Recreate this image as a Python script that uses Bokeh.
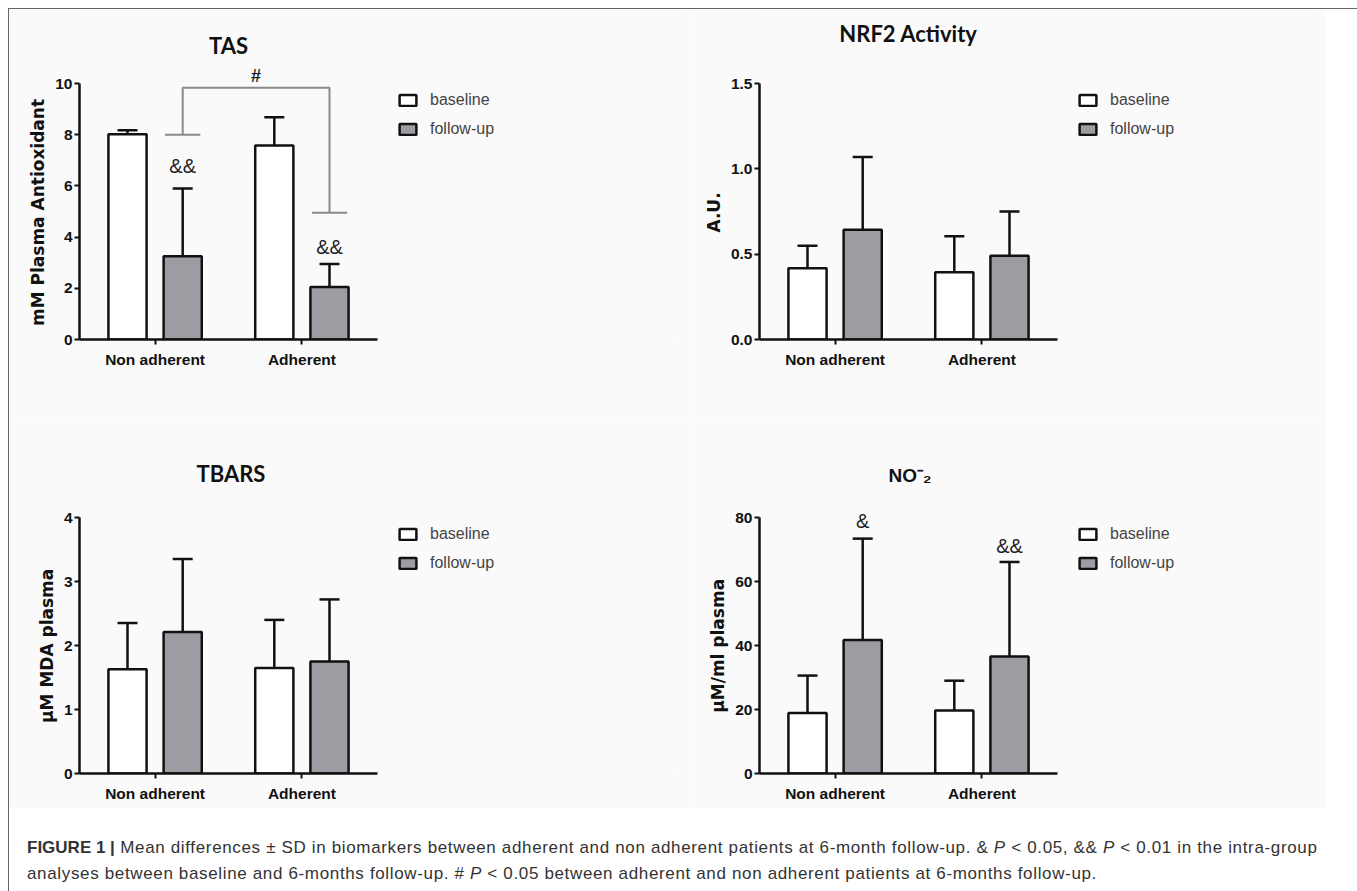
from bokeh.plotting import figure
from bokeh.models import (Range1d, FixedTicker, ColumnDataSource, Whisker, TeeHead,
                          Legend, LegendItem, Label, Div, Spacer, NumeralTickFormatter)
from bokeh.layouts import row, column
from bokeh.embed import file_html
from bokeh.resources import INLINE

# ---------------- data ----------------
groups = ["Non adherent", "Adherent"]
series = ["baseline", "follow-up"]

tas_base = [8.02, 7.58]
tas_base_sd = [0.15, 1.10]
tas_fu = [3.25, 2.05]
tas_fu_sd = [2.65, 0.90]
tas_ticks = [0, 2, 4, 6, 8, 10]

nrf2_base = [0.418, 0.394]
nrf2_base_sd = [0.132, 0.211]
nrf2_fu = [0.643, 0.490]
nrf2_fu_sd = [0.427, 0.260]
nrf2_ticks = [0.0, 0.5, 1.0, 1.5]

tbars_base = [1.63, 1.65]
tbars_base_sd = [0.72, 0.75]
tbars_fu = [2.21, 1.75]
tbars_fu_sd = [1.14, 0.97]
tbars_ticks = [0, 1, 2, 3, 4]

no2_base = [18.9, 19.7]
no2_base_sd = [11.7, 9.3]
no2_fu = [41.7, 36.6]
no2_fu_sd = [31.7, 29.5]
no2_ticks = [0, 20, 40, 60, 80]

# significance marks (on follow-up bars)
tas_marks = ["&&", "&&"]
no2_marks = ["&", "&&"]
# TAS between-group bracket: left leg end, top, right leg end
tas_bracket = [8.0, 9.83, 4.95]

# ---------------- style ----------------
BG = "#fafafa"
INK = "#111111"
GRAY_BAR = "#9c9ca2"
SANS = "Liberation Sans"
AXW, AXH = 298, 256          # axis extents in px
X0, X1 = -0.515, 1.515       # x data extent of the drawn axis
PXU = AXW / (X1 - X0)
OFF, BW = 0.188, 0.26
NBSP_W = 0.348 * 17          # width of a no-break space in the y label font


def panel(ylabel, ymax, ticks, fmt, base, base_sd, fu, fu_sd,
          fig_w, top_b, extra_top, bot_b, title=None, title_offset=0,
          title_standoff=0, title_font="Lato", title_size="22px"):
    fw = fig_w - 70 - 10
    fh = AXH + extra_top
    p = figure(frame_width=fw, frame_height=fh,
               x_range=Range1d(X0, X0 + fw / PXU),
               y_range=Range1d(0, ymax * fh / AXH),
               min_border_left=70, min_border_right=10,
               min_border_top=top_b, min_border_bottom=bot_b,
               title_location="above" if title else None,
               toolbar_location=None, output_backend="svg",
               background_fill_color=BG, border_fill_color=BG,
               outline_line_color=None)
    p.xgrid.visible = False
    p.ygrid.visible = False
    idx = list(range(len(groups)))
    src_b = ColumnDataSource(dict(x=[i - OFF for i in idx], top=base,
                                  up=[b + s for b, s in zip(base, base_sd)]))
    src_f = ColumnDataSource(dict(x=[i + OFF for i in idx], top=fu,
                                  up=[b + s for b, s in zip(fu, fu_sd)]))
    for src in (src_b, src_f):
        p.add_layout(Whisker(base="x", lower="top", upper="up", source=src,
                             dimension="height", line_color=INK, line_width=2.5,
                             upper_head=TeeHead(size=20, line_color=INK, line_width=2.5),
                             lower_head=None))
    rb = p.vbar(x="x", top="top", bottom=0, width=BW, source=src_b,
                fill_color="white", line_color=INK, line_width=2.5)
    rf = p.vbar(x="x", top="top", bottom=0, width=BW, source=src_f,
                fill_color=GRAY_BAR, line_color=INK, line_width=2.5)

    for ax in (p.xaxis[0], p.yaxis[0]):
        ax.axis_line_width = 2.5
        ax.axis_line_color = INK
        ax.major_tick_line_width = 2
        ax.major_tick_line_color = INK
        ax.major_tick_in = 0
        ax.major_tick_out = 5
        ax.minor_tick_line_color = None
        ax.major_label_text_font = SANS
        ax.major_label_text_font_style = "bold"
        ax.major_label_text_font_size = "15.5px"
        ax.major_label_text_color = INK
    p.xaxis.bounds = (X0, X1)
    p.xaxis.ticker = FixedTicker(ticks=idx)
    p.xaxis.major_label_overrides = {i: g for i, g in enumerate(groups)}
    p.xaxis.major_label_standoff = 6
    p.yaxis.bounds = (0, ymax)
    p.yaxis.ticker = FixedTicker(ticks=ticks)
    p.yaxis.formatter = NumeralTickFormatter(format=fmt)
    p.yaxis.major_label_standoff = 2
    # trailing no-break spaces re-centre the label on the drawn axis
    p.yaxis.axis_label = ylabel + "\u00a0" * round(extra_top / NBSP_W)
    p.yaxis.axis_label_text_font = "DejaVu Sans"
    p.yaxis.axis_label_text_font_style = "bold"
    p.yaxis.axis_label_text_font_size = "17px"
    p.yaxis.axis_label_text_color = INK
    p.yaxis.axis_label_standoff = 4

    if title:
        p.title.text = title
        p.title.align = "left"
        p.title.offset = title_offset
        p.title.standoff = title_standoff
        p.title.text_font = title_font
        p.title.text_font_style = "bold"
        p.title.text_font_size = title_size
        p.title.text_color = INK

    leg = Legend(items=[LegendItem(label=series[0], renderers=[rb]),
                        LegendItem(label=series[1], renderers=[rf])],
                 location=(AXW + 20, 200),
                 border_line_color=None, background_fill_alpha=0,
                 padding=0, margin=0, spacing=9, label_height=20,
                 glyph_width=21, glyph_height=14, label_standoff=12,
                 label_text_font=SANS, label_text_font_size="16px",
                 label_text_color="#444444")
    p.add_layout(leg)
    return p


def mark(p, x, y, text, dy, bold=False, size="20px"):
    p.add_layout(Label(x=x, y=y, text=text, y_offset=dy, text_align="center",
                       text_baseline="alphabetic", text_font=SANS,
                       text_font_style="bold" if bold else "normal",
                       text_font_size=size, text_color="#222222"))


def head(p, ymax, text, dy):
    # panel heading drawn above the axis top, centred between the groups
    p.add_layout(Label(x=0.5, y=ymax, text=text, y_offset=dy, text_align="center",
                       text_baseline="middle", text_font="Lato",
                       text_font_style="bold", text_font_size="22px",
                       text_color=INK))


TOP_EXTRA = 69
p1 = panel("mM Plasma Antioxidant", 10, tas_ticks, "0",
           tas_base, tas_base_sd, tas_fu, tas_fu_sd,
           680, 5, TOP_EXTRA, 81)
p2 = panel("A.U.", 1.5, nrf2_ticks, "0.0",
           nrf2_base, nrf2_base_sd, nrf2_fu, nrf2_fu_sd,
           636, 5, TOP_EXTRA, 81)
p3 = panel("\u03bcM MDA plasma", 4, tbars_ticks, "0",
           tbars_base, tbars_base_sd, tbars_fu, tbars_fu_sd,
           680, 74, 23, 35, "TBARS", 117, 16)
p4 = panel("\u03bcM/ml plasma", 80, no2_ticks, "0",
           no2_base, no2_base_sd, no2_fu, no2_fu_sd,
           636, 74, 23, 35, "NO\u207b\u2082", 129, 18,
           title_font=SANS, title_size="19px")

head(p1, 10, "TAS", 38.5)
head(p2, 1.5, "NRF2 Activity", 50)

# TAS significance marks and bracket
for i, (m, v, s) in enumerate(zip(tas_marks, tas_fu, tas_fu_sd)):
    mark(p1, i + OFF, v + s, m, [22, 16.5][i])
xl, xr = 0 + OFF, 1 + OFF
p1.line(x=[xl, xl, xr, xr], y=[tas_bracket[0], tas_bracket[1], tas_bracket[1], tas_bracket[2]],
        line_color="#8a8a8a", line_width=2)
p1.segment(x0=[xl - 0.12, xr - 0.12], y0=[tas_bracket[0], tas_bracket[2]],
           x1=[xl + 0.12, xr + 0.12], y1=[tas_bracket[0], tas_bracket[2]],
           line_color="#8a8a8a", line_width=2)
mark(p1, (xl + xr) / 2, tas_bracket[1], "#", 11.5, bold=True, size="18px")

# NO2 significance marks
for i, (m, v, s) in enumerate(zip(no2_marks, no2_fu, no2_fu_sd)):
    mark(p4, i + OFF, v + s, m, [17.5, 15.5][i])

caption_html = (
    '<div style="font-family:\'Liberation Sans\',Arial,sans-serif;font-size:17px;'
    'letter-spacing:0.65px;color:#333;padding:25px 0 0 13px;white-space:nowrap;">'
    '<div style="line-height:20px"><b style="letter-spacing:0">FIGURE 1 |</b> Mean differences \u00b1 SD in biomarkers '
    'between adherent and non adherent patients at 6-month follow-up. &amp; <i>P</i> &lt; 0.05, '
    '&amp;&amp; <i>P</i> &lt; 0.01 in the intra-group</div>'
    '<div style="line-height:20px;margin-top:6px">analyses between baseline and 6-months '
    'follow-up. # <i>P</i> &lt; 0.05 between adherent and non adherent patients at 6-months '
    'follow-up.</div></div>'
)
cap = Div(text=caption_html, width=1346, height=75)

layout = column(
    row(p1, p2, Spacer(width=30, height=10)),
    row(p3, p4, Spacer(width=30, height=10)),
    cap,
    styles={"border": "1px solid #666666", "border-bottom": "none",
            "margin-left": "8px", "margin-top": "8px"},
)

open("out.html", "w").write(file_html(layout, INLINE))
